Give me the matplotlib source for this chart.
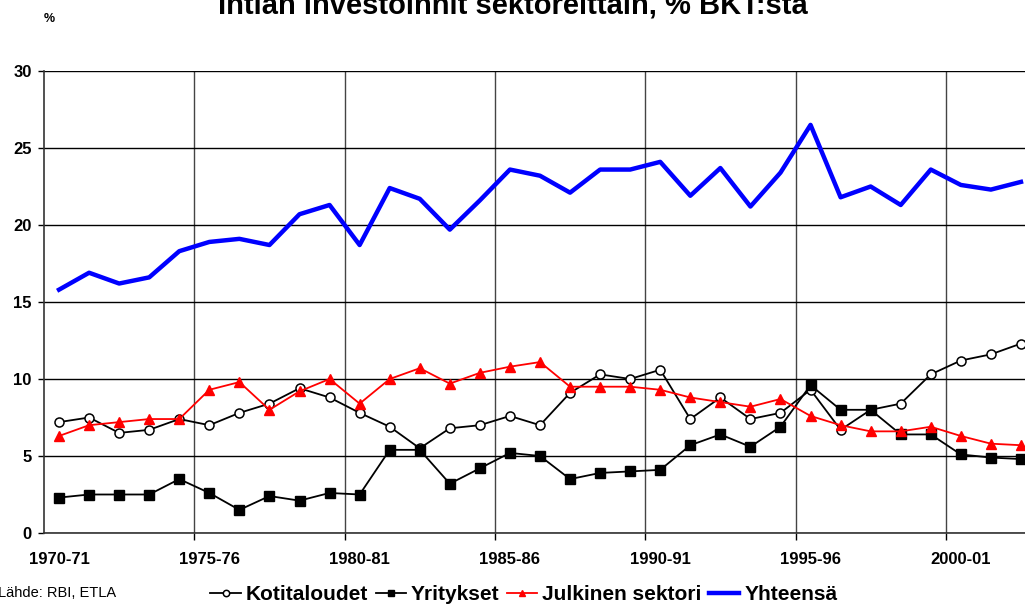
import matplotlib
matplotlib.use("Agg")
import matplotlib.pyplot as plt
from matplotlib.ticker import FixedLocator, NullFormatter, FixedFormatter

plt.rcParams['font.family'] = ['Liberation Sans', 'DejaVu Sans']

years = [f"{y}-{(y + 1) % 100:02d}" for y in range(1970, 2003)]

kotitaloudet = [7.2, 7.5, 6.5, 6.7, 7.4, 7.0, 7.8, 8.4, 9.4, 8.8, 7.8, 6.9,
                5.5, 6.8, 7.0, 7.6, 7.0, 9.1, 10.3, 10.0, 10.6, 7.4, 8.8,
                7.4, 7.8, 9.3, 6.7, 8.0, 8.4, 10.3, 11.2, 11.6, 12.3]
yritykset = [2.3, 2.5, 2.5, 2.5, 3.5, 2.6, 1.5, 2.4, 2.1, 2.6, 2.5, 5.4,
             5.4, 3.2, 4.2, 5.2, 5.0, 3.5, 3.9, 4.0, 4.1, 5.7, 6.4,
             5.6, 6.9, 9.6, 8.0, 8.0, 6.4, 6.4, 5.1, 4.9, 4.8]
julkinen = [6.3, 7.0, 7.2, 7.4, 7.4, 9.3, 9.8, 8.0, 9.2, 10.0, 8.4, 10.0,
            10.7, 9.7, 10.4, 10.8, 11.1, 9.5, 9.5, 9.5, 9.3, 8.8, 8.5,
            8.2, 8.7, 7.6, 7.0, 6.6, 6.6, 6.9, 6.3, 5.8, 5.7]
yhteensa = [15.8, 16.9, 16.2, 16.6, 18.3, 18.9, 19.1, 18.7, 20.7, 21.3, 18.7, 22.4,
            21.7, 19.7, 21.6, 23.6, 23.2, 22.1, 23.6, 23.6, 24.1, 21.9, 23.7,
            21.2, 23.4, 26.5, 21.8, 22.5, 21.3, 23.6, 22.6, 22.3, 22.8]

x = list(range(len(years)))

fig = plt.figure(figsize=(10.25, 6.08), dpi=100)
ax = fig.add_axes([44 / 1025, 1 - 533 / 608, 992 / 1025, 462 / 608])

ax.plot(x, kotitaloudet, color='black', lw=1.3, marker='o', ms=6.5,
        mfc='white', mec='black', mew=1.1, label='Kotitaloudet', zorder=3)
ax.plot(x, yritykset, color='black', lw=1.3, marker='s', ms=6.5,
        mfc='black', mec='black', label='Yritykset', zorder=3)
ax.plot(x, julkinen, color='red', lw=1.3, marker='^', ms=7,
        mfc='red', mec='red', label='Julkinen sektori', zorder=3)
ax.plot(x, yhteensa, color='#0000ff', lw=3.2, label='Yhteensä', zorder=4)

ax.set_xlim(-0.5, len(years) - 0.5)
ax.set_ylim(0, 30)

# category boundaries carry the ticks and gridlines, labels sit on categories
bounds = [4.5, 9.5, 14.5, 19.5, 24.5, 29.5]
ax.xaxis.set_major_locator(FixedLocator(bounds))
ax.xaxis.set_major_formatter(NullFormatter())
lab_pos = list(range(0, len(years), 5))
ax.xaxis.set_minor_locator(FixedLocator(lab_pos))
ax.xaxis.set_minor_formatter(FixedFormatter([years[i] for i in lab_pos]))
ax.tick_params(axis='x', which='major', length=5, width=1, color='black', direction='out')
ax.tick_params(axis='x', which='minor', length=0, pad=14, labelsize=12)
for t in ax.xaxis.get_minorticklabels():
    t.set_fontweight('bold')

ax.set_yticks(range(0, 31, 5))
ax.tick_params(axis='y', length=4, width=1, pad=5, labelsize=12)
for t in ax.get_yticklabels():
    t.set_fontweight('bold')

ax.grid(axis='y', color='black', lw=1)
ax.grid(axis='x', which='major', color='#444444', lw=1)
ax.set_axisbelow(True)

for s in ['top', 'right']:
    ax.spines[s].set_visible(False)
ax.spines['left'].set_linewidth(1.2)
ax.spines['bottom'].set_linewidth(1.2)
ax.spines['left'].set_color('#333333')
ax.spines['bottom'].set_color('#333333')

fig.text(513 / 1025, 1 - 14 / 608, 'Intian investoinnit sektoreittain, % BKT:sta',
         ha='center', va='baseline', fontsize=21, fontweight='bold')
fig.text(49 / 1025, 1 - 19 / 608, '%', ha='center', va='center',
         fontsize=9, fontweight='bold')
fig.text(-2 / 1025, 1 - 593 / 608, 'Lähde: RBI, ETLA', ha='left', va='center',
         fontsize=10.5)

leg = fig.legend(loc='center', bbox_to_anchor=(524 / 1025, 1 - 595 / 608), ncol=4,
                 frameon=False, handlelength=1.45, handletextpad=0.25,
                 columnspacing=0.35, markerscale=0.7,
                 prop={'weight': 'bold', 'size': 15})

fig.savefig('out.png', dpi=100)
